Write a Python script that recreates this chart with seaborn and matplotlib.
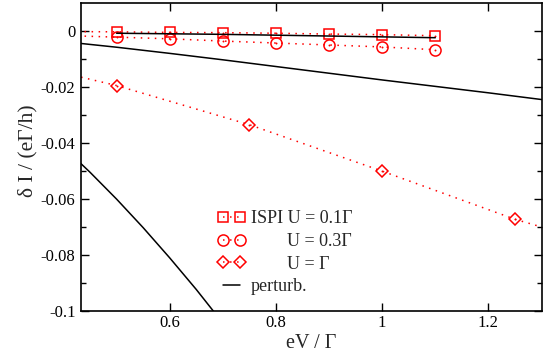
import numpy as np
import pandas as pd
import matplotlib
matplotlib.use("Agg")
import matplotlib.pyplot as plt
import seaborn as sns

# ---- data ----
x_u01 = [0.4, 0.5, 0.6, 0.7, 0.8, 0.9, 1.0, 1.1]
y_u01 = [-0.0001, -0.0002, -0.0004, -0.0005, -0.0007, -0.0010, -0.0012, -0.0016]

x_u03 = [0.4, 0.5, 0.6, 0.7, 0.8, 0.9, 1.0, 1.1]
y_u03 = [-0.0015, -0.0021, -0.0027, -0.0035, -0.0042, -0.0049, -0.0056, -0.0066]

x_u1 = [0.25, 0.5, 0.75, 1.0, 1.25, 1.5]
y_u1 = [-0.0082, -0.0194, -0.0334, -0.0500, -0.0672, -0.0810]

xp_u01 = [0.5, 0.6, 0.7, 0.8, 0.9, 1.0, 1.1]
yp_u01 = [-0.0007, -0.0009, -0.0011, -0.0014, -0.0017, -0.0020, -0.0023]

xp_u03 = [0.4, 0.5, 0.6, 0.7, 0.8, 0.9, 1.0, 1.1, 1.2, 1.3]
yp_u03 = [-0.0037, -0.0057, -0.0079, -0.0102, -0.0126, -0.0150, -0.0174, -0.0197, -0.0220, -0.0244]

xp_u1 = [0.4, 0.45, 0.5, 0.55, 0.6, 0.65, 0.7]
yp_u1 = [-0.0414, -0.0504, -0.0600, -0.0702, -0.0810, -0.0923, -0.1043]

legend_labels = ["ISPI U = 0.1\u0393", "        U = 0.3\u0393", "        U = \u0393", "perturb."]
xticks = [0.6, 0.8, 1.0, 1.2]
xticklabels = ["0.6", "0.8", "1", "1.2"]
yticks = [0.0, -0.02, -0.04, -0.06, -0.08, -0.1]
yticklabels = ["0", "-0.02", "-0.04", "-0.06", "-0.08", "-0.1"]

# ---- style ----
sns.set_theme(style="ticks")
plt.rcParams["font.family"] = ["Liberation Serif", "DejaVu Serif"]
plt.rcParams["axes.unicode_minus"] = False

fig = plt.figure(figsize=(5.43, 3.56), dpi=100)
ax = fig.add_axes([81 / 543, 1 - 311 / 356, (541.5 - 81) / 543, (311 - 3.3) / 356])

red = "#ff0000"
dot = (0, (1.0, 3.6))

def mk(x, y):
    return pd.DataFrame({"x": x, "y": y})

sns.lineplot(data=mk(x_u01, y_u01), x="x", y="y", ax=ax, color=red, linestyle=dot, lw=1.1,
             marker="s", ms=7, mfc="none", mec=red, mew=1.1, label=legend_labels[0])
sns.lineplot(data=mk(x_u03, y_u03), x="x", y="y", ax=ax, color=red, linestyle=dot, lw=1.1,
             marker="o", ms=8, mfc="none", mec=red, mew=1.1, label=legend_labels[1])
sns.lineplot(data=mk(x_u1, y_u1), x="x", y="y", ax=ax, color=red, linestyle=dot, lw=1.1,
             marker="D", ms=6.3, mfc="none", mec=red, mew=1.1, label=legend_labels[2])
sns.lineplot(data=mk(xp_u01, yp_u01), x="x", y="y", ax=ax, color="black", lw=1.1,
             label=legend_labels[3])
sns.lineplot(data=mk(xp_u03, yp_u03), x="x", y="y", ax=ax, color="black", lw=1.1)
sns.lineplot(data=mk(xp_u1, yp_u1), x="x", y="y", ax=ax, color="black", lw=1.1)

# center dots in markers
for xs, ys in [(x_u01, y_u01), (x_u03, y_u03), (x_u1, y_u1)]:
    sns.scatterplot(x=xs, y=ys, ax=ax, color=red, s=2, linewidth=0, legend=False)

ax.set_xlim(0.433, 1.3)
ax.set_ylim(-0.1, 0.01)
ax.set_xticks(xticks)
ax.set_xticklabels(xticklabels)
ax.set_yticks(yticks)
ax.set_yticklabels(yticklabels)
ax.set_yticks(np.arange(-0.09, 0.005, 0.02), minor=True)

ax.tick_params(which="both", direction="in", top=True, right=True, labelsize=12,
               width=1.0, colors="black")
ax.tick_params(which="major", length=6.0, pad=4)
ax.tick_params(which="minor", length=3.6)
ax.tick_params(axis="x", pad=3)
for s in ax.spines.values():
    s.set_linewidth(1.2)
    s.set_color("black")

ax.set_xlabel("eV / \u0393", fontsize=14.5, labelpad=2)
ax.set_ylabel("\u03b4 I / (e\u0393/h)", fontsize=15.5, labelpad=2)
ax.yaxis.label.set_y(0.52)

ax.legend(loc="upper left", bbox_to_anchor=(0.296, 0.328), frameon=False, numpoints=2,
          fontsize=13, borderpad=0, borderaxespad=0, handlelength=1.56,
          handletextpad=0.3, labelspacing=0.32)

fig.savefig("out.png", dpi=100, facecolor="white")
